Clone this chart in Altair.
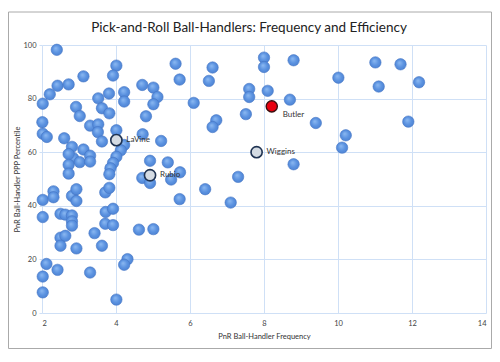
import altair as alt
import pandas as pd

# Regular players: frequency (x) and PPP percentile (y)
freq = [2.40, 4.01, 3.92, 3.12, 2.42, 2.72, 2.21, 2.02, 2.01, 2.02, 2.13, 2.92, 3.02, 3.30,
        3.52, 3.52, 3.62, 3.81, 3.82, 3.51, 3.62, 4.01, 4.22, 4.22, 4.71, 5.01, 5.12, 5.01,
        4.81, 4.72, 5.22, 4.22, 4.13, 4.01, 3.92, 3.85, 3.82, 2.60, 2.81, 2.84, 2.72, 2.72,
        2.72, 3.02, 3.12, 3.30, 3.30, 4.92, 5.40, 4.71, 4.92, 5.49, 2.02, 2.31, 2.31, 2.81,
        2.93, 2.93, 2.02, 2.50, 2.63, 2.81, 2.81, 2.81, 2.50, 2.63, 2.50, 2.93, 3.71, 3.82,
        3.72, 3.92, 3.71, 3.92, 3.42, 3.62, 4.62, 5.01, 4.31, 4.22, 2.12, 2.42, 2.02, 2.02,
        3.30, 4.01, 5.61, 6.61, 5.72, 6.51, 8.00, 8.00, 8.80, 7.60, 7.60, 8.10, 8.70, 6.10,
        7.51, 6.71, 6.61, 9.40, 8.80, 5.73, 7.30, 6.41, 5.72, 7.10, 11.01, 11.69, 10.01,
        11.10, 12.19, 11.90, 10.21, 10.11]
pct = [98.2, 92.3, 88.6, 88.3, 84.8, 85.3, 81.6, 78.1, 71.2, 66.9, 65.7, 76.9, 73.5, 69.9,
       70.4, 80.1, 76.4, 81.9, 74.5, 67.5, 64.0, 68.2, 82.4, 78.9, 85.1, 84.1, 80.6, 77.9,
       73.4, 66.7, 64.2, 62.7, 60.7, 58.3, 56.0, 54.0, 51.8, 65.2, 62.0, 57.8, 59.3, 55.3,
       52.0, 56.3, 61.0, 58.7, 56.5, 56.8, 56.2, 50.4, 48.5, 49.8, 42.2, 45.4, 43.2, 43.7,
       46.2, 41.8, 35.8, 37.0, 36.7, 36.4, 34.2, 32.6, 28.1, 28.8, 25.1, 24.1, 45.0, 46.7,
       37.7, 38.9, 33.3, 32.8, 29.8, 25.1, 31.1, 31.3, 20.1, 18.0, 18.3, 16.1, 13.6, 7.7,
       15.1, 5.0, 93.0, 91.6, 87.1, 86.6, 95.3, 91.8, 94.3, 83.6, 80.6, 82.9, 79.6, 78.4,
       74.2, 71.9, 69.4, 70.9, 55.5, 52.5, 50.8, 46.2, 42.5, 41.2, 93.5, 92.8, 87.8,
       84.5, 86.1, 71.4, 66.3, 61.7]

# Highlighted players
hl_names = ["LaVine", "Rubio", "Wiggins"]
hl_freq = [4.01, 4.92, 7.80]
hl_pct = [64.5, 51.4, 60.0]

star_name = ["Butler"]
star_freq = [8.21]
star_pct = [77.1]

title_text = ["Pick-and-Roll Ball-Handlers: Frequency and Efficiency"]

df = pd.DataFrame({"freq": freq, "pct": pct})
hl = pd.DataFrame({"name": hl_names, "freq": hl_freq, "pct": hl_pct})
star = pd.DataFrame({"name": star_name, "freq": star_freq, "pct": star_pct})
tdf = pd.DataFrame({"t": title_text})

FONT = "Lato"
GRID = "#cfe0f6"

xs = alt.Scale(domain=[2, 14], nice=False, zero=False)
ys = alt.Scale(domain=[0, 100], nice=False)

xenc = alt.X("freq:Q", scale=xs,
             axis=alt.Axis(values=[2, 4, 6, 8, 10, 12, 14], title="PnR Ball-Handler Frequency",
                           grid=True, gridColor=GRID, domain=False, ticks=False,
                           labelFontSize=7.5, labelColor="#444", labelPadding=6, labelFont=FONT,
                           titleFont=FONT, titleFontSize=7.5, titleColor="#333",
                           titleFontWeight="normal", titlePadding=6))
yenc = alt.Y("pct:Q", scale=ys,
             axis=alt.Axis(values=list(range(0, 101, 10)), title="PnR Ball-Handler PPP Percentile",
                           grid=True, gridColor=GRID, domain=False, ticks=True, tickSize=3,
                           tickColor=GRID,
                           labelFontSize=7.5, labelColor="#444", labelPadding=3, labelFont=FONT,
                           titleFont=FONT, titleFontSize=7.5, titleColor="#333",
                           titleFontWeight="normal", titlePadding=1))

ball = alt.RadialGradient(
    gradient="radial",
    stops=[alt.GradientStop(color="#8dbaf2", offset=0),
           alt.GradientStop(color="#5b92e0", offset=0.55),
           alt.GradientStop(color="#4a7fd0", offset=1)],
    x1=0.4, y1=0.35, r1=0, x2=0.5, y2=0.5, r2=0.6)

pts = alt.Chart(df).mark_point(filled=True, shape="circle", size=130, fill=ball,
                               stroke="#4476c4", strokeWidth=0.6, opacity=1).encode(x=xenc, y=yenc)

hpts = alt.Chart(hl).mark_point(filled=True, shape="circle", size=125, fill="#d4dbe3",
                                stroke="#1f3352", strokeWidth=1.6, opacity=1).encode(
    x=alt.X("freq:Q", scale=xs), y=alt.Y("pct:Q", scale=ys))
hlab = alt.Chart(hl).mark_text(align="left", baseline="middle", dx=10, fontSize=8,
                               font=FONT, color="#333").encode(
    x=alt.X("freq:Q", scale=xs), y=alt.Y("pct:Q", scale=ys), text="name:N")

spts = alt.Chart(star).mark_point(filled=True, shape="circle", size=125, fill="#e8000e",
                                  stroke="#3a1010", strokeWidth=1.4, opacity=1).encode(
    x=alt.X("freq:Q", scale=xs), y=alt.Y("pct:Q", scale=ys))
slab = alt.Chart(star).mark_text(align="left", baseline="middle", dx=11, dy=9, fontSize=8,
                                 font=FONT, color="#333").encode(
    x=alt.X("freq:Q", scale=xs), y=alt.Y("pct:Q", scale=ys), text="name:N")

title = alt.Chart(tdf).mark_text(align="center", baseline="middle", fontSize=13.5, font=FONT,
                                 color="#222").encode(
    x=alt.value(207), y=alt.value(-17), text="t:N")

frame = alt.Chart(tdf).mark_rect(fillOpacity=0, stroke="#aaaaaa", strokeWidth=1).encode(
    x=alt.value(-33.5), x2=alt.value(449.5), y=alt.value(-33), y2=alt.value(303.5))

chart = alt.layer(frame, title, pts, hpts, hlab, spts, slab).properties(
    width=444, height=268,
    autosize=alt.AutoSizeParams(type="none"),
    padding={"left": 34, "top": 37, "right": 6, "bottom": 37},
    background="white",
).configure_view(stroke=None)

chart.save("out.html", embed_options={"renderer": "svg", "actions": False})
